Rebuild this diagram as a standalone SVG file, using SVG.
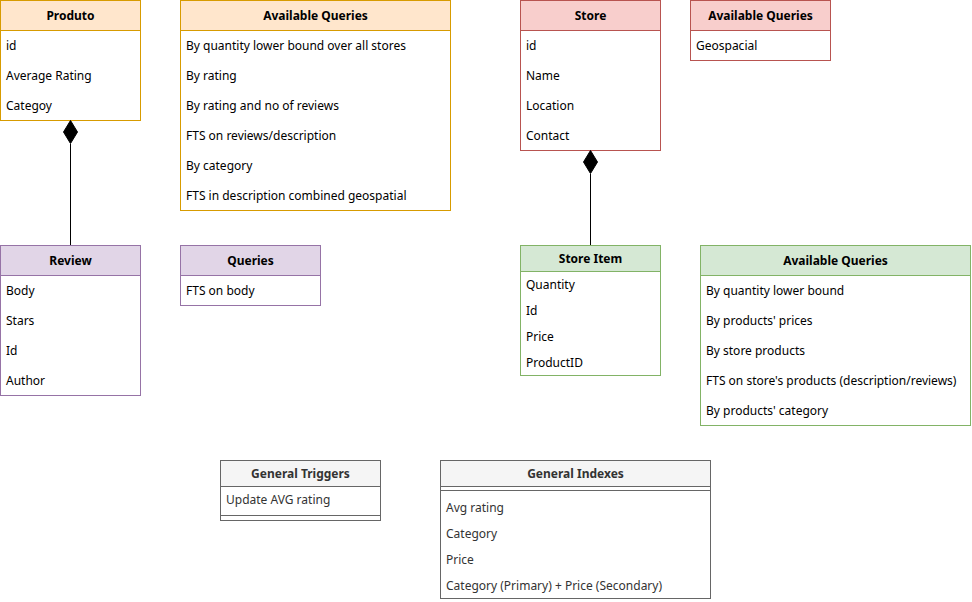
<svg xmlns="http://www.w3.org/2000/svg" width="972" height="602" viewBox="0 0 972 602">
<style>
text{font-family:"Noto Sans","Open Sans",sans-serif;font-size:12px;fill:#000}
.t{font-weight:bold;text-anchor:middle}
.g text{fill:#333333}
.box{fill:#fff}
.o .h{fill:#ffe6cc;stroke:#d79b00}.o .box{stroke:#d79b00}
.r .h{fill:#f8cecc;stroke:#b85450}.r .box{stroke:#b85450}
.p .h{fill:#e1d5e7;stroke:#9673a6}.p .box{stroke:#9673a6}
.gr .h{fill:#d5e8d4;stroke:#82b366}.gr .box{stroke:#82b366}
.g .h{fill:#f5f5f5;stroke:#666666}.g .box{stroke:#666666}.g line{stroke:#666666}
</style>
<rect width="972" height="602" fill="#fff"/>
<g id="produto" class="o">
<rect class="box" x="0.5" y="0.5" width="140" height="120"/>
<rect class="h" x="0.5" y="0.5" width="140" height="30"/>
<text class="t" x="70.5" y="20">Produto</text>
<text x="6" y="50">id</text><text x="6" y="80">Average Rating</text><text x="6" y="110">Categoy</text>
</g>
<g id="produto-queries" class="o">
<rect class="box" x="180.5" y="0.5" width="270" height="210"/>
<rect class="h" x="180.5" y="0.5" width="270" height="30"/>
<text class="t" x="315.5" y="20">Available Queries</text>
<text x="186" y="50">By quantity lower bound over all stores</text>
<text x="186" y="80">By rating</text>
<text x="186" y="110">By rating and no of reviews</text>
<text x="186" y="140">FTS on reviews/description</text>
<text x="186" y="170">By category</text>
<text x="186" y="200">FTS in description combined geospatial</text>
</g>
<g id="store" class="r">
<rect class="box" x="520.5" y="0.5" width="140" height="150"/>
<rect class="h" x="520.5" y="0.5" width="140" height="30"/>
<text class="t" x="590.5" y="20">Store</text>
<text x="526" y="50">id</text><text x="526" y="80">Name</text><text x="526" y="110">Location</text><text x="526" y="140">Contact</text>
</g>
<g id="store-queries" class="r">
<rect class="box" x="690.5" y="0.5" width="140" height="60"/>
<rect class="h" x="690.5" y="0.5" width="140" height="30"/>
<text class="t" x="760.5" y="20">Available Queries</text>
<text x="696" y="50">Geospacial</text>
</g>
<g id="review" class="p">
<rect class="box" x="0.5" y="245.5" width="140" height="150"/>
<rect class="h" x="0.5" y="245.5" width="140" height="30"/>
<text class="t" x="70.5" y="265">Review</text>
<text x="6" y="295">Body</text><text x="6" y="325">Stars</text><text x="6" y="355">Id</text><text x="6" y="385">Author</text>
</g>
<g id="review-queries" class="p">
<rect class="box" x="180.5" y="245.5" width="140" height="60"/>
<rect class="h" x="180.5" y="245.5" width="140" height="30"/>
<text class="t" x="250.5" y="265">Queries</text>
<text x="186" y="295">FTS on body</text>
</g>
<g id="store-item" class="gr">
<rect class="box" x="520.5" y="245.5" width="140" height="130"/>
<rect class="h" x="520.5" y="245.5" width="140" height="26"/>
<text class="t" x="590.5" y="263">Store Item</text>
<text x="526" y="289">Quantity</text><text x="526" y="315">Id</text><text x="526" y="341">Price</text><text x="526" y="367">ProductID</text>
</g>
<g id="store-item-queries" class="gr">
<rect class="box" x="700.5" y="245.5" width="270" height="180"/>
<rect class="h" x="700.5" y="245.5" width="270" height="30"/>
<text class="t" x="835.5" y="265">Available Queries</text>
<text x="706" y="295">By quantity lower bound</text>
<text x="706" y="325">By products' prices</text>
<text x="706" y="355">By store products</text>
<text x="706" y="385">FTS on store's products (description/reviews)</text>
<text x="706" y="415">By products' category</text>
</g>
<g id="general-triggers" class="g">
<rect class="box" x="220.5" y="460.5" width="160" height="60"/>
<rect class="h" x="220.5" y="460.5" width="160" height="26"/>
<text class="t" x="300.5" y="478">General Triggers</text>
<text x="226" y="504">Update AVG rating</text>
<line x1="220.5" y1="515.5" x2="380.5" y2="515.5"/>
</g>
<g id="general-indexes" class="g">
<rect class="box" x="440.5" y="460.5" width="270" height="138"/>
<rect class="h" x="440.5" y="460.5" width="270" height="26"/>
<text class="t" x="575.5" y="478">General Indexes</text>
<line x1="440.5" y1="490.5" x2="710.5" y2="490.5"/>
<text x="446" y="512">Avg rating</text>
<text x="446" y="538">Category</text>
<text x="446" y="564">Price</text>
<text x="446" y="590">Category (Primary) + Price (Secondary)</text>
</g>
<g id="connectors" stroke="#000" fill="#000">
<line x1="70.5" y1="144" x2="70.5" y2="245"/>
<polygon points="70.5,120.5 77.5,132 70.5,143.5 63.5,132"/>
<line x1="590.5" y1="174" x2="590.5" y2="245"/>
<polygon points="590.5,150.5 597.5,162 590.5,173.5 583.5,162"/>
</g>
</svg>
